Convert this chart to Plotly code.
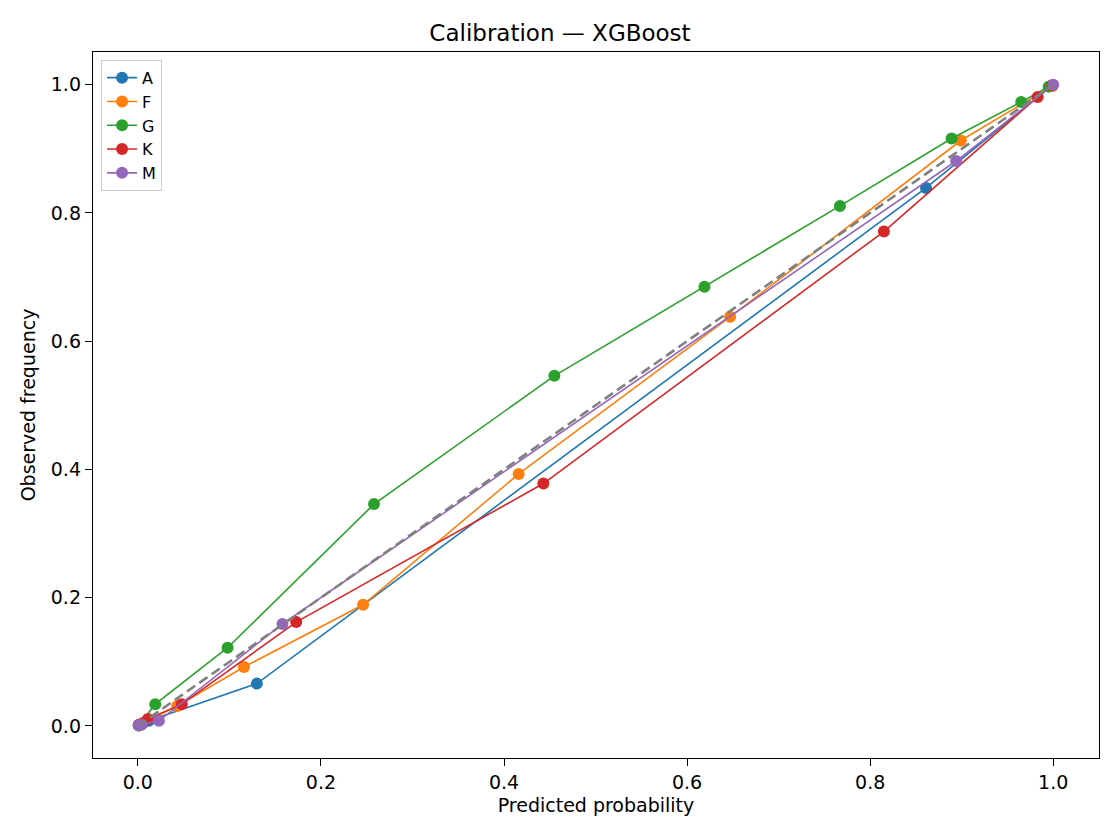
import plotly.graph_objects as go

title = "Calibration — XGBoost"
series_names = ["A", "F", "G", "K", "M"]
colors = ["#1f77b4", "#ff7f0e", "#2ca02c", "#d62728", "#9467bd"]

A_x = [0.001, 0.012, 0.130, 0.861, 0.998]
A_y = [0.0005, 0.008, 0.066, 0.839, 0.998]
F_x = [0.001, 0.043, 0.116, 0.246, 0.416, 0.647, 0.899, 0.999]
F_y = [0.001, 0.031, 0.092, 0.189, 0.393, 0.638, 0.913, 0.998]
G_x = [0.001, 0.019, 0.098, 0.258, 0.455, 0.619, 0.767, 0.889, 0.965, 0.995]
G_y = [0.001, 0.034, 0.122, 0.346, 0.546, 0.685, 0.811, 0.916, 0.973, 0.997]
K_x = [0.001, 0.005, 0.011, 0.048, 0.173, 0.443, 0.815, 0.983, 0.999]
K_y = [0.002, 0.004, 0.011, 0.034, 0.162, 0.378, 0.771, 0.981, 0.999]
M_x = [0.001, 0.004, 0.023, 0.158, 0.894, 1.000]
M_y = [0.001, 0.002, 0.008, 0.159, 0.881, 1.000]

ref_x = [0.0, 1.0]
ref_y = [0.0, 1.0]
tick_vals = [0.0, 0.2, 0.4, 0.6, 0.8, 1.0]

data = [(A_x, A_y), (F_x, F_y), (G_x, G_y), (K_x, K_y), (M_x, M_y)]

FONT = "DejaVu Sans"

fig = go.Figure()
for name, col, (xs, ys) in zip(series_names, colors, data):
    fig.add_trace(go.Scatter(
        x=xs, y=ys, mode="lines+markers", name=name,
        line=dict(color=col, width=1.6),
        marker=dict(color=col, size=12, line=dict(width=0)),
    ))
fig.add_trace(go.Scatter(
    x=ref_x, y=ref_y, mode="lines", showlegend=False,
    line=dict(color="gray", width=2.6, dash="10px,5px"),
    hoverinfo="skip",
))

axis_common = dict(
    showline=True, linecolor="black", linewidth=1.4, mirror=True,
    ticks="outside", ticklen=7, tickwidth=1.4, tickcolor="black",
    showgrid=False, zeroline=False,
    tickvals=tick_vals, tickformat=".1f",
    tickfont=dict(family=FONT, size=19, color="black"),
)
fig.update_xaxes(range=[-0.049, 1.050],
                 title=dict(text="Predicted probability", font=dict(family=FONT, size=19, color="black"), standoff=6),
                 **axis_common)
fig.update_yaxes(range=[-0.05, 1.051],
                 title=dict(text="Observed frequency", font=dict(family=FONT, size=19, color="black"), standoff=10),
                 **axis_common)

fig.update_layout(
    width=1120, height=840,
    margin=dict(l=93, r=21, t=52, b=82),
    paper_bgcolor="white", plot_bgcolor="white",
    title=dict(text=title, x=0.5, xanchor="center", y=1 - 33/840, yanchor="middle",
               font=dict(family=FONT, size=23, color="black")),
    legend=dict(x=0.008, y=0.989, xanchor="left", yanchor="top",
                bgcolor="rgba(255,255,255,0.8)", bordercolor="#cccccc", borderwidth=1,
                font=dict(family=FONT, size=16, color="black"),
                itemwidth=30, tracegroupgap=0),
    showlegend=True,
)

fig.write_html("out.html")
